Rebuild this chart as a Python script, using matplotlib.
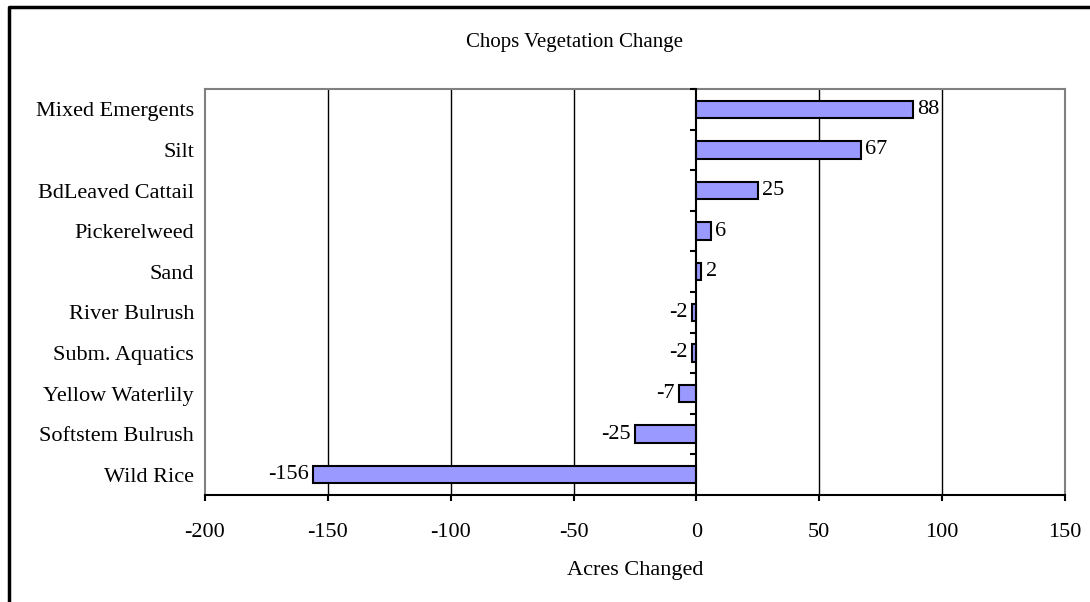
import numpy as np
import matplotlib
matplotlib.use("Agg")
from matplotlib import pyplot as plt
from matplotlib.lines import Line2D

# data, top to bottom as in the chart
categories = ["Mixed Emergents", "Silt", "BdLeaved Cattail", "Pickerelweed", "Sand",
              "River Bulrush", "Subm. Aquatics", "Yellow Waterlily", "Softstem Bulrush", "Wild Rice"]
acres = [88, 67, 25, 6, 2, -2, -2, -7, -25, -156]
xticks = [-200, -150, -100, -50, 0, 50, 100, 150]

plt.rcParams['font.family'] = ['Liberation Serif', 'DejaVu Serif']
fs = 16

W, H = 1090, 602
fig = plt.figure(figsize=(W/100, H/100), dpi=100)
ax = fig.add_axes([205/W, (H-495)/H, 860/W, 406/H])

n = len(categories)
ypos = np.arange(n)[::-1]

bars = ax.barh(ypos, acres, height=0.43, color='#9999FF', edgecolor='black',
               linewidth=1.5, zorder=3)
ax.bar_label(bars, labels=[str(v) for v in acres], padding=3, fontsize=fs)

ax.set_xlim(-200, 150)
ax.set_ylim(-0.5, n-0.5)
ax.set_xticks(xticks)
ax.set_xticklabels([str(t) for t in xticks], fontsize=fs)
ax.set_yticks(ypos)
ax.set_yticklabels(categories, fontsize=fs)
ax.tick_params(axis='y', length=0, pad=8)
ax.tick_params(axis='x', length=4, width=1.5, direction='out', pad=16)

for t in xticks:
    if t not in (0, xticks[0], xticks[-1]):
        ax.axvline(t, color='black', lw=1, zorder=1)

for s in ['left', 'top', 'right']:
    ax.spines[s].set_color('#808080')
    ax.spines[s].set_linewidth(1.5)
ax.spines['bottom'].set_linewidth(1.5)

ax.set_xlabel("Acres Changed", fontsize=fs, labelpad=14)

# zero line with category separator ticks
ax2 = ax.twinx()
ax2.set_ylim(ax.get_ylim())
for s in ['left', 'top', 'bottom']:
    ax2.spines[s].set_visible(False)
ax2.spines['right'].set_position(('data', 0))
ax2.spines['right'].set_linewidth(1.5)
ax2.set_yticks(np.arange(-0.5, n, 1.0))
ax2.set_yticklabels([])
ax2.tick_params(axis='y', direction='in', length=4, width=1.5)

fig.text(575/W, 1-42/H, "Chops Vegetation Change", fontsize=15, ha='center', va='center')

# chart frame (partly cut off)
fig.add_artist(Line2D([9/W, 9/W, 1], [0, 1-7/H, 1-7/H], transform=fig.transFigure,
                      color='black', lw=2.5))

fig.savefig("out.png", dpi=100)
